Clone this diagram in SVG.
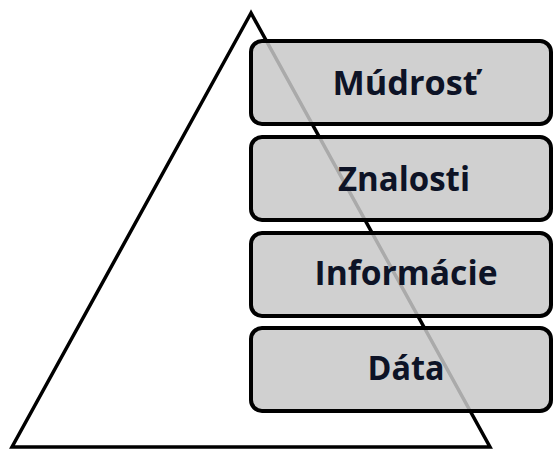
<svg xmlns="http://www.w3.org/2000/svg" width="553" height="450" viewBox="0 0 553 450">
  <style>
    .pyramid { fill: none; stroke: #000; stroke-width: 3.5; stroke-linejoin: miter; }
    .level rect { fill: #c8c8c8; fill-opacity: 0.85; stroke: #000; stroke-width: 4; }
    .level text { font-family: "Open Sans", "Noto Sans", "DejaVu Sans", sans-serif; font-weight: bold; font-size: 34px; fill: #0d1326; text-anchor: middle; }
  </style>
  <rect width="553" height="450" fill="#fff"/>
  <!-- background pyramid -->
  <g id="connectors">
    <polygon class="pyramid" points="251,13 12,447 490,447"/>
  </g>
  <!-- knowledge levels, top to bottom -->
  <g id="mudrost" class="level">
    <rect x="251" y="41" width="300" height="83" rx="11"/>
    <text x="405" y="95" textLength="145" lengthAdjust="spacingAndGlyphs">Múdrosť</text>
  </g>
  <g id="znalosti" class="level">
    <rect x="251" y="137" width="300" height="83" rx="11"/>
    <text x="404" y="191" textLength="132" lengthAdjust="spacingAndGlyphs">Znalosti</text>
  </g>
  <g id="informacie" class="level">
    <rect x="251" y="233" width="300" height="83" rx="11"/>
    <text x="406" y="285" textLength="183" lengthAdjust="spacingAndGlyphs">Informácie</text>
  </g>
  <g id="data" class="level">
    <rect x="251" y="328" width="300" height="83" rx="11"/>
    <text x="406" y="380" textLength="77" lengthAdjust="spacingAndGlyphs">Dáta</text>
  </g>
</svg>
